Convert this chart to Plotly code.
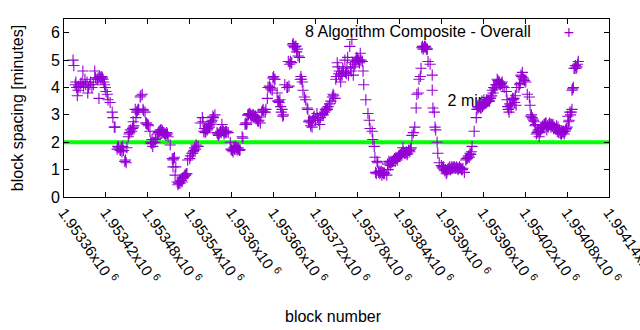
import plotly.graph_objects as go

BASE = 1953360
block_offsets = [
    13, 14, 17, 19, 20, 23, 27, 30, 33, 34, 37, 40, 44, 47, 49, 50, 52, 54, 56, 59,
    60, 62, 63, 66, 69, 70, 72, 73, 77, 80, 83, 84, 87, 89, 90, 92, 94, 97, 99, 99,
    102, 103, 104, 106, 109, 112, 113, 116, 117, 119, 123, 126, 127, 130, 133, 135, 137, 140, 142, 145,
    147, 149, 152, 155, 156, 156, 159, 162, 163, 166, 169, 170, 173, 176, 177, 180, 183, 185, 187, 190,
    192, 195, 198, 199, 200, 202, 205, 206, 209, 212, 213, 216, 219, 220, 223, 226, 228, 230, 233, 235,
    238, 240, 242, 245, 248, 249, 252, 255, 256, 259, 262, 263, 266, 269, 271, 273, 276, 278, 281, 283,
    285, 288, 291, 292, 295, 298, 299, 302, 305, 306, 309, 312, 313, 316, 319, 321, 323, 326, 327, 331,
    333, 335, 338, 341, 342, 344, 346, 348, 349, 352, 355, 356, 362, 366, 371, 374, 376, 378, 384, 385,
    388, 391, 392, 395, 396, 398, 399, 402, 405, 406, 409, 412, 414, 416, 419, 421, 424, 427, 428, 429,
    432, 435, 437, 438, 441, 442, 444, 445, 448, 449, 452, 455, 457, 459, 462, 464, 467, 469, 471, 474,
    477, 478, 481, 484, 485, 488, 491, 492, 495, 498, 500, 502, 504, 505, 507, 508, 510, 511, 512, 514,
    517, 520, 521, 524, 527, 527, 528, 530, 531, 532, 534, 535, 537, 540, 541, 544, 547, 548, 551, 554,
    555, 558, 561, 562, 565, 568, 570, 573, 575, 577, 580, 583, 584, 587, 590, 591, 594, 597, 598, 601,
    604, 605, 608, 611, 613, 615, 618, 620, 623, 625, 627, 630, 633, 634, 637, 640, 641, 644, 647, 648,
    651, 654, 656, 658, 661, 663, 666, 668, 670, 673, 676, 677, 680, 683, 684, 687, 690, 691, 694, 697,
    698, 701, 704, 706, 708, 711, 713, 716, 719, 720, 721, 724, 727, 727, 729, 731, 734, 736,
]
spacing_min = [
    5.0, 4.8, 4.2, 3.7, 3.9, 4.0, 4.6, 4.3, 4.2, 3.8, 4.1, 4.0, 4.6, 4.3, 4.35, 3.6, 4.35, 4.4, 4.3, 4.0,
    3.85, 3.75, 3.55, 3.45, 3.1, 2.9, 2.55, 2.55, 1.85, 1.72, 1.65, 1.85, 1.3, 1.25, 1.8, 2.2, 2.35, 2.4, 2.55, 2.75,
    3.2, 2.9, 3.1, 3.2, 3.65, 3.75, 3.2, 3.1, 2.7, 2.65, 2.4, 2.1, 1.85, 2.0, 2.15, 2.35, 2.4, 2.45, 2.35, 2.3,
    2.35, 2.2, 1.9, 1.4, 1.35, 1.1, 0.8, 0.55, 0.45, 0.5, 0.55, 0.7, 0.8, 0.85, 1.35, 1.4, 1.6, 1.65, 1.8, 1.85,
    1.85, 2.7, 2.9, 2.75, 2.4, 2.35, 2.45, 2.5, 2.65, 2.8, 2.95, 3.0, 2.35, 2.3, 2.35, 2.65, 2.4, 2.35, 2.4, 2.35,
    2.0, 1.72, 1.65, 1.85, 1.72, 1.8, 1.72, 2.2, 2.15, 2.65, 2.7, 3.0, 3.05, 2.95, 3.0, 2.95, 2.9, 2.75, 2.7, 3.1,
    3.2, 3.1, 3.6, 4.0, 4.0, 3.9, 4.35, 4.3, 3.8, 3.5, 3.55, 3.2, 2.95, 4.1, 4.0, 4.95, 4.85, 4.9, 5.55, 5.5,
    5.3, 5.15, 4.3, 4.2, 3.9, 3.65, 3.55, 3.25, 3.2, 2.75, 2.55, 2.8, 3.05, 2.65, 3.0, 3.2, 3.25, 3.3, 3.65, 3.75,
    3.6, 4.9, 4.75, 4.4, 4.2, 4.45, 4.7, 5.0, 4.75, 5.1, 5.5, 5.75, 4.45, 4.85, 5.1, 5.0, 5.25, 4.95, 4.6, 4.1,
    3.55, 3.05, 2.8, 2.5, 2.4, 2.1, 1.85, 1.45, 1.3, 1.25, 0.85, 0.8, 0.85, 0.85, 0.8, 1.0, 1.15, 1.25, 1.3, 1.3,
    1.35, 1.45, 1.55, 1.6, 1.8, 1.6, 1.55, 1.6, 1.65, 2.25, 2.35, 2.55, 3.25, 3.75, 3.8, 4.3, 4.4, 4.7, 5.45, 5.4,
    5.5, 5.4, 4.95, 4.85, 4.45, 3.9, 3.25, 3.1, 2.55, 2.45, 2.0, 1.6, 1.25, 1.15, 1.1, 1.0, 0.85, 0.9, 1.0, 1.05,
    1.1, 1.05, 1.05, 1.1, 1.05, 1.05, 1.0, 0.9, 1.35, 1.4, 1.45, 1.65, 1.85, 2.4, 2.9, 3.2, 3.3, 3.25, 3.5, 3.55,
    3.45, 3.55, 3.5, 3.65, 3.9, 4.0, 4.1, 4.3, 4.2, 4.1, 4.2, 4.0, 3.85, 3.55, 3.1, 3.25, 3.55, 3.6, 3.35, 4.0,
    4.0, 4.45, 4.55, 4.3, 4.2, 3.75, 3.65, 2.95, 2.9, 2.75, 2.3, 2.35, 2.2, 2.55, 2.5, 2.65, 2.7, 2.45, 2.65, 2.55,
    2.65, 2.5, 2.5, 2.4, 2.35, 2.3, 2.4, 2.3, 2.5, 2.55, 2.95, 3.1, 3.2, 3.9, 4.0, 4.7, 4.75, 4.95,
]
# further readings from the dense clusters
extra_offsets = [
    16, 18, 21, 24, 26, 28, 31, 35, 38, 42, 45, 48, 51, 53, 55, 57, 58,
    76, 78, 81, 82, 85, 88, 93, 95, 98, 100, 105, 107, 110, 114, 118, 120, 121,
    124, 125, 128, 131, 134, 136, 138, 139, 141, 143, 144, 146, 148, 157, 158, 160,
    164, 165, 167, 168, 171, 172, 174, 175, 181, 184, 186, 188, 189,
    201, 203, 204, 207, 208, 210, 211, 214, 221, 222, 224, 225, 227, 229, 231, 232,
    239, 241, 243, 244, 246, 247, 250, 251, 260, 261,
    264, 265, 267, 268, 270, 272, 274, 275, 277, 279, 284, 286, 289, 294, 296, 300, 301,
    307, 308, 310, 311, 314, 320, 322, 324, 325, 328, 329, 330, 332, 334, 337, 339, 340,
    350, 351, 353, 354, 357, 358, 360, 363, 364, 367, 369, 370, 373, 375, 377, 380, 382, 386,
    389, 390, 393, 394, 397, 400, 403, 404, 407, 410, 411, 413, 415, 417, 418, 420, 422, 423, 425,
    446, 447, 450, 451, 453, 454, 456, 458,
    463, 465, 466, 468, 470, 472, 473, 475, 476, 479, 480, 482, 483, 486, 487, 489, 490, 493, 494, 496, 497,
    513, 515, 516, 518, 519,
    542, 543, 545, 546, 549, 550, 552, 553, 556, 557, 559, 560, 563, 564, 566, 567, 569, 571,
    576, 578, 579, 581, 582,
    592, 593, 595, 596, 599, 600, 602, 603, 606, 607, 609, 610, 612, 614, 616, 617, 619, 621, 622, 624, 626, 628,
    635, 636, 638, 639, 642, 643, 645, 646, 652, 653, 655, 657, 659, 667, 669, 671, 672,
    674, 675, 678, 679, 681, 682, 685, 686, 688, 689, 692, 693, 695, 696, 699, 700, 702, 703, 705, 707,
    709, 710, 712, 714, 715, 717, 718, 722, 723, 725, 726, 728, 730, 732, 733, 735,
]
extra_values = [
    4.1, 4.0, 4.05, 4.15, 4.2, 4.05, 4.1, 4.0, 4.2, 4.1, 4.35, 4.3, 4.4, 4.3, 4.35, 4.2, 4.1,
    1.75, 1.8, 1.7, 1.8, 1.7, 1.35, 2.3, 2.45, 2.5, 2.6, 3.15, 3.2, 3.7, 3.15, 2.7, 2.65, 2.6,
    2.0, 1.95, 2.0, 2.1, 2.3, 2.4, 2.45, 2.35, 2.4, 2.35, 2.3, 2.25, 2.3, 1.4, 1.45, 1.1,
    0.5, 0.55, 0.6, 0.6, 0.7, 0.75, 0.8, 0.85, 1.5, 1.6, 1.7, 1.75, 1.9,
    2.5, 2.4, 2.5, 2.6, 2.55, 2.7, 2.75, 2.9, 2.25, 2.3, 2.4, 2.35, 2.45, 2.3, 2.4, 2.35,
    1.75, 1.7, 1.8, 1.75, 1.75, 1.8, 1.75, 1.7, 2.7, 2.65,
    3.0, 3.05, 3.0, 2.95, 3.0, 2.9, 2.95, 2.85, 2.8, 2.8, 3.15, 3.1, 3.2, 4.05, 3.95, 4.4, 4.3,
    3.5, 3.45, 3.3, 3.1, 3.0, 4.0, 4.05, 4.95, 4.9, 5.6, 5.5, 5.45, 5.5, 5.4, 5.1, 4.4, 4.3,
    2.75, 2.8, 2.6, 2.7, 2.9, 2.95, 2.85, 2.9, 2.8, 2.9, 3.0, 3.05, 3.1, 3.15, 3.2, 3.4, 3.5, 3.7,
    4.3, 4.4, 4.5, 4.6, 4.5, 4.6, 4.55, 4.5, 4.45, 4.7, 4.6, 4.9, 4.75, 4.95, 5.0, 5.05, 5.0, 4.9, 5.0,
    0.9, 0.85, 0.9, 0.95, 0.9, 0.95, 0.9, 0.9,
    1.2, 1.3, 1.25, 1.3, 1.3, 1.35, 1.4, 1.45, 1.4, 1.5, 1.5, 1.55, 1.6, 1.65, 1.6, 1.6, 1.65, 1.7, 1.7, 1.75, 1.8,
    5.5, 5.45, 5.5, 5.45, 5.4,
    1.05, 1.1, 0.95, 1.0, 1.0, 1.05, 1.1, 1.0, 1.05, 1.1, 1.1, 1.05, 1.05, 1.0, 1.1, 1.05, 1.0, 1.05,
    1.4, 1.45, 1.5, 1.6, 1.55,
    3.3, 3.25, 3.3, 3.25, 3.3, 3.35, 3.4, 3.45, 3.5, 3.55, 3.5, 3.6, 3.7, 3.8, 4.0, 3.95, 4.1, 4.25, 4.2, 4.1, 4.15, 4.05,
    3.3, 3.2, 3.4, 3.35, 3.6, 3.55, 3.45, 3.7, 4.1, 4.15, 4.4, 4.35, 4.25, 3.35, 3.0, 2.85, 2.8,
    2.6, 2.65, 2.4, 2.45, 2.35, 2.4, 2.6, 2.55, 2.65, 2.7, 2.6, 2.55, 2.7, 2.65, 2.6, 2.65, 2.55, 2.5, 2.6, 2.55,
    2.45, 2.35, 2.3, 2.35, 2.4, 2.4, 2.45, 2.75, 2.8, 3.0, 3.1, 3.95, 4.7, 4.8, 4.7, 4.85,
]
all_offsets = block_offsets + extra_offsets
all_values = spacing_min + extra_values
blocks = [BASE + o for o in all_offsets]

tick_vals = [BASE + 60 * i for i in range(14)]
tick_labels = ["1.95336", "1.95342", "1.95348", "1.95354", "1.9536", "1.95366", "1.95372",
               "1.95378", "1.95384", "1.9539", "1.95396", "1.95402", "1.95408", "1.95414"]
tick_text = [t + "x10 <sup>6</sup>" for t in tick_labels]

ref_level = 2
ref_label = "2 min"
series_name = "8 Algorithm Composite - Overall"

PURPLE = "#9400D3"
FONT = "Liberation Sans, Arial, sans-serif"
FS = 16

fig = go.Figure()
# "2 min" label beneath the points
fig.add_trace(go.Scatter(x=[BASE + 577], y=[3.48], mode="text", text=[ref_label],
                         textfont=dict(size=FS, color="black", family=FONT),
                         showlegend=False, hoverinfo="skip"))
fig.add_trace(go.Scatter(x=[BASE, BASE + 780], y=[ref_level, ref_level], mode="lines",
                         line=dict(color="#00FF00", width=4), showlegend=False))
fig.add_trace(go.Scatter(x=blocks, y=all_values, mode="markers", name=series_name,
                         marker=dict(symbol="cross-thin", size=8,
                                     line=dict(color=PURPLE, width=1.1)),
                         showlegend=False))

fig.add_annotation(xref="paper", yref="paper", x=0.8606, y=0.927, xanchor="right", yanchor="middle",
                   text=series_name, showarrow=False,
                   font=dict(size=FS, color="black", family=FONT))
fig.add_annotation(xref="paper", yref="paper", x=0.9266, y=0.927, xanchor="center", yanchor="middle",
                   text="+", showarrow=False,
                   font=dict(size=14, color=PURPLE, family="DejaVu Sans"))
fig.add_annotation(xref="paper", yref="paper", x=-0.086, y=0.5, xanchor="center", yanchor="middle",
                   text="block spacing [minutes]", textangle=-90, showarrow=False,
                   font=dict(size=FS, color="black", family=FONT))
fig.add_annotation(xref="paper", yref="paper", x=0.495, y=-0.67, xanchor="center", yanchor="middle",
                   text="block number", showarrow=False,
                   font=dict(size=FS, color="black", family=FONT))

fig.update_xaxes(range=[BASE, BASE + 780], tickvals=tick_vals, ticktext=tick_text, tickangle=55,
                 ticks="inside", ticklen=5, tickcolor="black", mirror="allticks",
                 showline=True, linecolor="black", linewidth=1, showgrid=False, zeroline=False,
                 ticklabeloverflow="allow", automargin=False,
                 tickfont=dict(size=15, color="black", family=FONT))
fig.update_yaxes(range=[0, 6.5], tickvals=[0, 1, 2, 3, 4, 5, 6],
                 ticks="inside", ticklen=5, tickcolor="black", mirror="allticks",
                 showline=True, linecolor="black", linewidth=1, showgrid=False, zeroline=False,
                 automargin=False,
                 tickfont=dict(size=FS, color="black", family=FONT))
fig.update_layout(width=640, height=330, margin=dict(l=64, r=31, t=19, b=133),
                  plot_bgcolor="white", paper_bgcolor="white", showlegend=False)
fig.write_html("out.html")
